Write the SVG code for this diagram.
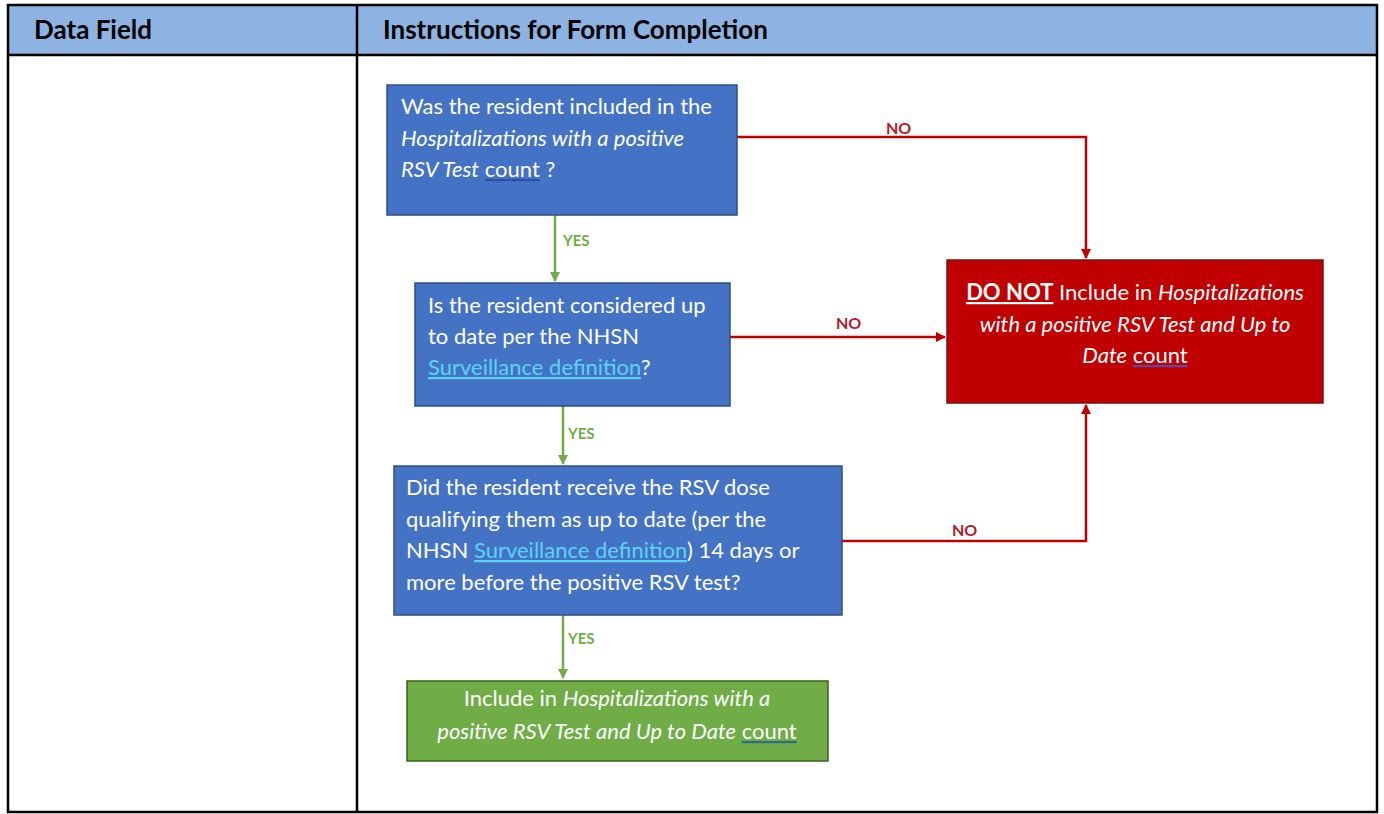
<svg xmlns="http://www.w3.org/2000/svg" width="1384" height="814" viewBox="0 0 1384 814">
<style>
.hdr{font-family:Lato,"Liberation Sans",sans-serif;font-weight:bold;font-size:26px;fill:#000}
.t{font-family:Lato,"Liberation Sans",sans-serif;font-size:22px;fill:#fff}
.c{text-anchor:middle}
.i{font-style:italic}
.lnk{fill:#5ad4f5;text-decoration:underline}
.yes{font-family:Lato,"Liberation Sans",sans-serif;font-weight:bold;font-size:15px;fill:#70ad47}
.no{font-family:Lato,"Liberation Sans",sans-serif;font-weight:bold;font-size:16px;fill:#b0202a}
.g{stroke:#70ad47;stroke-width:2.5;fill:none}
.r{stroke:#c00000;stroke-width:2.5;fill:none}
.box{stroke:#2f4f7f;stroke-width:1.5}
.w{fill:#fff}
</style>
<defs>
<marker id="ag" viewBox="0 0 10 10" refX="9" refY="5" markerWidth="4" markerHeight="4" orient="auto" markerUnits="strokeWidth"><path d="M0,0L10,5L0,10z" fill="#70ad47"/></marker>
<marker id="ar" viewBox="0 0 10 10" refX="9" refY="5" markerWidth="4" markerHeight="4" orient="auto" markerUnits="strokeWidth"><path d="M0,0L10,5L0,10z" fill="#c00000"/></marker>
</defs>
<rect width="1384" height="814" fill="#fff"/>
<g id="table">
<rect x="8" y="5" width="1369" height="50" fill="#8db3e2"/>
<rect x="8" y="5" width="1369" height="807" fill="none" stroke="#000" stroke-width="2.5"/>
<line x1="8" y1="55" x2="1377" y2="55" stroke="#000" stroke-width="2.5"/>
<line x1="357" y1="5" x2="357" y2="812" stroke="#000" stroke-width="2.5"/>
<text class="hdr" x="34" y="39">Data Field</text>
<text class="hdr" x="383" y="39">Instructions for Form Completion</text>
</g>
<g id="connectors">
<line class="g" x1="555" y1="215" x2="555" y2="281" marker-end="url(#ag)"/>
<line class="g" x1="563" y1="406" x2="563" y2="464" marker-end="url(#ag)"/>
<line class="g" x1="563" y1="615" x2="563" y2="678" marker-end="url(#ag)"/>
<text class="yes" x="563" y="246">YES</text>
<text class="yes" x="568" y="439">YES</text>
<text class="yes" x="568" y="644">YES</text>
<polyline class="r" points="737,137 1086,137 1086,258" marker-end="url(#ar)"/>
<line class="r" x1="730" y1="337" x2="945" y2="337" marker-end="url(#ar)"/>
<polyline class="r" points="842,541 1086,541 1086,405" marker-end="url(#ar)"/>
<text class="no" x="886" y="134">NO</text>
<text class="no" x="836" y="329">NO</text>
<text class="no" x="952" y="536">NO</text>
</g>
<g id="q1">
<rect class="box" x="387" y="85" width="350" height="130" fill="#4472c4"/>
<text class="t" x="401" y="114">Was the resident included in the</text>
<text class="t i" x="401" y="146">Hospitalizations with a positive</text>
<text class="t" x="401" y="177"><tspan class="i">RSV Test</tspan> <tspan fill="#2b4fa8" text-decoration="underline"><tspan class="w">count</tspan></tspan> ?</text>
</g>
<g id="q2">
<rect class="box" x="415" y="283" width="315" height="123" fill="#4472c4"/>
<text class="t" x="428" y="313">Is the resident considered up</text>
<text class="t" x="428" y="344">to date per the NHSN</text>
<text class="t" x="428" y="375"><tspan class="lnk">Surveillance definition</tspan>?</text>
</g>
<g id="q3">
<rect class="box" x="394" y="466" width="448" height="149" fill="#4472c4"/>
<text class="t" x="406" y="495">Did the resident receive the RSV dose</text>
<text class="t" x="406" y="527">qualifying them as up to date (per the</text>
<text class="t" x="406" y="558">NHSN <tspan class="lnk">Surveillance definition</tspan>) 14 days or</text>
<text class="t" x="406" y="590">more before the positive RSV test?</text>
</g>
<g id="include">
<rect x="407" y="681" width="421" height="80" fill="#70ad47" stroke="#3d5f27" stroke-width="1.5"/>
<text class="t c" x="617" y="706">Include in <tspan class="i">Hospitalizations with a</tspan></text>
<text class="t c" x="617" y="739"><tspan class="i">positive RSV Test and Up to Date</tspan> <tspan fill="#2e6a8a" text-decoration="underline"><tspan class="w">count</tspan></tspan></text>
</g>
<g id="exclude">
<rect x="947" y="260" width="376" height="143" fill="#c00000" stroke="#7a1010" stroke-width="1.5"/>
<text class="t c" x="1135" y="300"><tspan font-weight="bold" text-decoration="underline">DO NOT</tspan> Include in <tspan class="i">Hospitalizations</tspan></text>
<text class="t c i" x="1135" y="332">with a positive RSV Test and Up to</text>
<text class="t c" x="1135" y="363"><tspan class="i">Date</tspan> <tspan fill="#5a4aa8" text-decoration="underline"><tspan class="w">count</tspan></tspan></text>
</g>
</svg>
